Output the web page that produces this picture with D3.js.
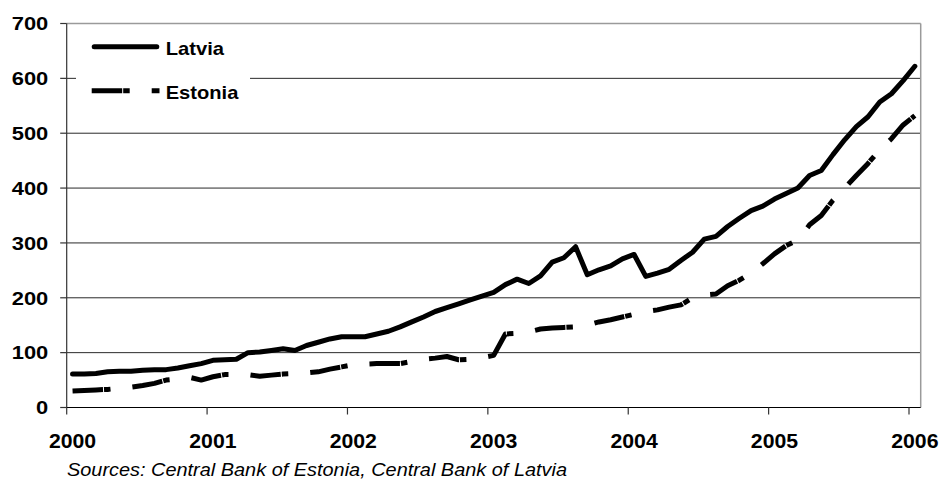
<!DOCTYPE html>
<html>
<head>
<meta charset="utf-8">
<script src="https://cdn.jsdelivr.net/npm/d3@7"></script>
<style>
  html, body { margin: 0; padding: 0; background: #fff; }
  svg { display: block; font-family: "Liberation Sans", Arial, sans-serif; }
</style>
</head>
<body>
<svg id="chart" width="942" height="481"></svg>
<script>
// Monthly series, January 2000 to January 2006
const yearLabels = ["2000", "2001", "2002", "2003", "2004", "2005", "2006"];
const monthNames = ["01", "02", "03", "04", "05", "06", "07", "08", "09", "10", "11", "12"];
const months = yearLabels.flatMap(yr => monthNames.map(mo => `${yr}-${mo}`)).slice(0, 73);

const latvia = [
  61, 61, 62, 65, 66, 66, 68, 69, 69, 72,
  76, 80, 86, 87, 88, 100, 101, 104, 107, 104,
  113, 119, 125, 129, 129, 129, 134, 139, 147, 156,
  165, 175, 182, 189, 196, 203, 210, 224, 234, 226,
  240, 265, 273, 293, 242, 251, 258, 271, 279, 239,
  245, 252, 268, 283, 307, 312, 330, 345, 359, 367,
  380, 390, 400, 423, 432, 461, 488, 512, 530, 557,
  572, 596, 622
];

const estonia = [
  30, 31, 32, 33, 35, 37, 40, 44, 50, 52,
  55, 50, 56, 60, 60, 60, 57, 59, 61, 62,
  63, 65, 70, 74, 78, 79, 80, 80, 80, 84,
  88, 90, 93, 87, 88, 91, 95, 134, 135, 138,
  143, 145, 146, 147, 150, 156, 160, 165, 170, 175,
  178, 183, 187, 200, 205, 207, 222, 232, 245, 262,
  280, 295, 305, 333, 350, 378, 400, 423, 445, 470,
  490, 515, 532
];

const yTicks = [0, 100, 200, 300, 400, 500, 600, 700];
const seriesNames = ["Latvia", "Estonia"];
const sourceNote = "Sources: Central Bank of Estonia, Central Bank of Latvia";

// Long dash with a short dot tucked close behind it
const estoniaDash = "30.5,1,6.5,22";

const svg = d3.select("#chart");
svg.append("rect").attr("width", 942).attr("height", 481).attr("fill", "#fff");

const plot = { left: 66.7, right: 920.7, top: 23.5, bottom: 407.5 };

const x = d3.scaleBand().domain(months).range([plot.left, plot.right]).padding(0);
const y = d3.scaleLinear().domain([0, 700]).range([plot.bottom, plot.top]);
const cx = m => x(m) + x.bandwidth() / 2;

// Horizontal gridlines
svg.append("g")
  .selectAll("line")
  .data(yTicks.filter(t => t > 0 && t < 700))
  .join("line")
  .attr("x1", plot.left).attr("x2", plot.right)
  .attr("y1", d => y(d)).attr("y2", d => y(d))
  .attr("stroke", "#2a2a2a").attr("stroke-width", 1);

// Plot frame: top and right edges
svg.append("line")
  .attr("x1", plot.left).attr("x2", plot.right)
  .attr("y1", y(700)).attr("y2", y(700))
  .attr("stroke", "#9a9a9a").attr("stroke-width", 1.5);
svg.append("line")
  .attr("x1", plot.right).attr("x2", plot.right)
  .attr("y1", plot.top).attr("y2", plot.bottom)
  .attr("stroke", "#9a9a9a").attr("stroke-width", 1.5);

// Y axis
const yAxis = svg.append("g");
yAxis.append("line")
  .attr("x1", plot.left).attr("x2", plot.left)
  .attr("y1", plot.top).attr("y2", plot.bottom)
  .attr("stroke", "#333").attr("stroke-width", 1.2);
yAxis.selectAll("line.tick")
  .data(yTicks)
  .join("line")
  .attr("class", "tick")
  .attr("x1", plot.left - 6.5).attr("x2", plot.left)
  .attr("y1", d => y(d)).attr("y2", d => y(d))
  .attr("stroke", "#333").attr("stroke-width", 1.2);
yAxis.selectAll("text")
  .data(yTicks)
  .join("text")
  .attr("x", d => 48.3 - String(d).length * 12.2)
  .attr("y", d => y(d) + 6.8)
  .attr("textLength", d => String(d).length * 12.2)
  .attr("lengthAdjust", "spacingAndGlyphs")
  .attr("font-size", 19)
  .attr("font-weight", "bold")
  .attr("fill", "#000")
  .text(d => d);

// X axis
const xAxis = svg.append("g");
xAxis.append("line")
  .attr("x1", plot.left).attr("x2", plot.right)
  .attr("y1", plot.bottom).attr("y2", plot.bottom)
  .attr("stroke", "#000").attr("stroke-width", 1.2);
const yearStarts = yearLabels.map(yr => `${yr}-01`);
xAxis.selectAll("line.tick")
  .data(yearStarts)
  .join("line")
  .attr("class", "tick")
  .attr("x1", d => x(d)).attr("x2", d => x(d))
  .attr("y1", plot.bottom).attr("y2", plot.bottom + 7)
  .attr("stroke", "#333").attr("stroke-width", 1.2);
xAxis.selectAll("text")
  .data(yearStarts)
  .join("text")
  .attr("x", d => cx(d) - 23.65)
  .attr("y", 448.3)
  .attr("textLength", 47.3)
  .attr("lengthAdjust", "spacingAndGlyphs")
  .attr("font-size", 20)
  .attr("font-weight", "bold")
  .attr("fill", "#000")
  .text(d => d.slice(0, 4));

// Series lines
const line = d3.line()
  .x((d, i) => cx(months[i]))
  .y(d => y(d));

svg.append("path")
  .datum(estonia)
  .attr("d", line)
  .attr("fill", "none")
  .attr("stroke", "#000")
  .attr("stroke-width", 5)
  .attr("stroke-linejoin", "round")
  .attr("stroke-linecap", "butt")
  .attr("stroke-dasharray", estoniaDash);

svg.append("path")
  .datum(latvia)
  .attr("d", line)
  .attr("fill", "none")
  .attr("stroke", "#000")
  .attr("stroke-width", 5)
  .attr("stroke-linejoin", "round")
  .attr("stroke-linecap", "round");

// Legend
const legend = svg.append("g");
legend.append("rect")
  .attr("x", 76).attr("y", 30).attr("width", 174).attr("height", 80)
  .attr("fill", "#fff");
legend.append("line")
  .attr("x1", 94.2).attr("x2", 156.8).attr("y1", 46.7).attr("y2", 46.7)
  .attr("stroke", "#000").attr("stroke-width", 5).attr("stroke-linecap", "round");
legend.append("line")
  .attr("x1", 91.7).attr("x2", 159.5).attr("y1", 90.7).attr("y2", 90.7)
  .attr("stroke", "#000").attr("stroke-width", 5).attr("stroke-linecap", "butt")
  .attr("stroke-dasharray", estoniaDash);
legend.selectAll("text")
  .data(seriesNames)
  .join("text")
  .attr("x", 165.7)
  .attr("y", (d, i) => i === 0 ? 55 : 99.3)
  .attr("textLength", (d, i) => i === 0 ? 58.3 : 72.7)
  .attr("lengthAdjust", "spacingAndGlyphs")
  .attr("font-size", 18.6)
  .attr("font-weight", "bold")
  .attr("fill", "#000")
  .text(d => d);

// Source note
svg.append("text")
  .attr("x", 67)
  .attr("y", 476)
  .attr("textLength", 500)
  .attr("lengthAdjust", "spacingAndGlyphs")
  .attr("font-size", 18)
  .attr("font-style", "italic")
  .attr("fill", "#000")
  .text(sourceNote);
</script>
</body>
</html>
